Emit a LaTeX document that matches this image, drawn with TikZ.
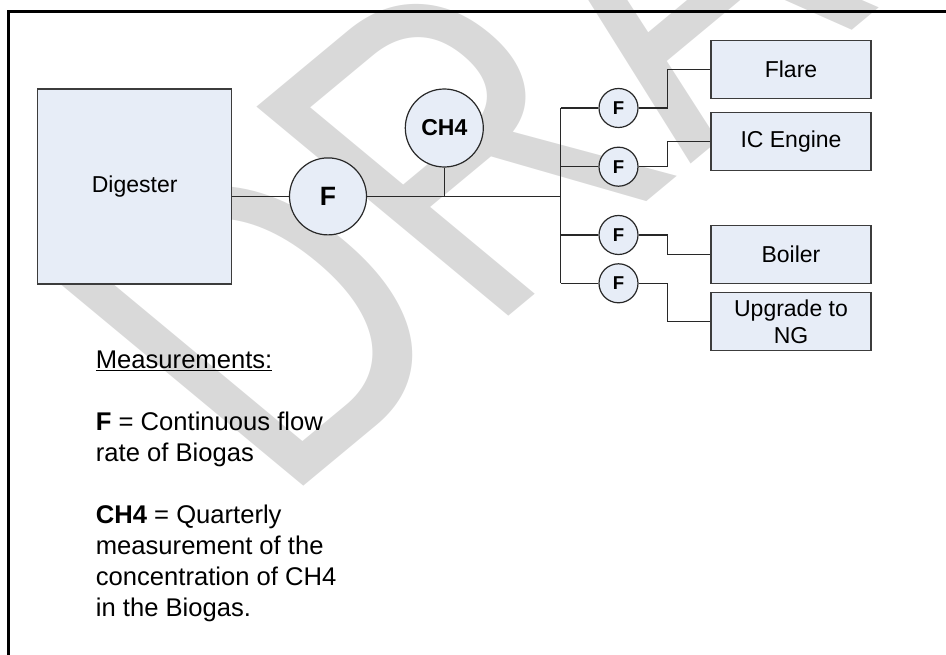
\documentclass[tikz,border=0pt]{standalone}
\usepackage{fontspec}
\setmainfont{Liberation Sans}
\usepackage{graphicx}
\definecolor{boxfill}{RGB}{231,237,247}
\definecolor{linec}{RGB}{40,40,40}
\definecolor{boxline}{RGB}{60,60,60}
\definecolor{wmgray}{RGB}{217,217,217}
\tikzset{
  unitbox/.style={draw=boxline, line width=1.4pt, fill=boxfill, rectangle, minimum width=160pt, minimum height=58pt, inner sep=0pt, align=center, font=\fontsize{23}{27.4}\selectfont},
  bigmeter/.style={draw=linec, line width=1.2pt, fill=boxfill, circle, minimum size=77pt, inner sep=0pt, font=\bfseries\fontsize{26.5}{30}\selectfont},
  chmeter/.style={draw=linec, line width=1.2pt, fill=boxfill, circle, minimum size=78pt, inner sep=0pt, font=\bfseries\fontsize{23}{27}\selectfont},
  smallmeter/.style={draw=linec, line width=1.2pt, fill=boxfill, circle, minimum size=39pt, inner sep=0pt, font=\bfseries\fontsize{18.6}{22}\selectfont},
  pipe/.style={draw=linec, line width=1.2pt},
  legendtxt/.style={anchor=base west, inner sep=0pt, font=\fontsize{25.6}{31}\selectfont},
  wmtxt/.style={anchor=base west, inner sep=0pt, text=wmgray, rotate=45, transform shape, font=\fontsize{401.4}{402}\selectfont}
}
\begin{document}
\begin{tikzpicture}[x=1pt,y=1pt]
\useasboundingbox (0,0) rectangle (946,-655);
\begin{scope}
\clip (0,0) rectangle (946,-655);
\begin{scope}[yscale=0.83]
\node[wmtxt] (wm) at (280.1,-608.7) {\scalebox{1}[1.29]{DRAFT}};
\end{scope}
\end{scope}
% frame
\coordinate (frbl) at (8.5,-660);
\coordinate (frtl) at (8.5,-11.5);
\coordinate (frtr) at (950,-11.5);
\draw[line width=2.5pt, black] (frbl) -- (frtl) -- (frtr);
% main units
\node[draw=boxline, line width=1.4pt, fill=boxfill, minimum width=194pt, minimum height=195pt, inner sep=0pt, font=\fontsize{23}{27}\selectfont] (dig) at (134.7,-186.5) {Digester};
\node[bigmeter] (f0) at (328,-196.4) {F};
\node[chmeter] (ch4) at (444.3,-128) {CH4};
\coordinate (busx) at (560.7,0);
\coordinate (kneex) at (667.3,0);
\node[smallmeter] (f1) at (618.5,-108) {F};
\node[smallmeter] (f2) at (618.5,-166.7) {F};
\node[smallmeter] (f3) at (618.5,-235) {F};
\node[smallmeter] (f4) at (618.5,-283.3) {F};
\node[unitbox] (flare) at (791,-69.7) {Flare};
\node[unitbox] (ic) at (791,-141.5) {IC Engine};
\node[unitbox] (boiler) at (791,-254.5) {Boiler};
\node[unitbox] (upg) at (791,-321.7) {Upgrade to\\NG};
% pipes
\draw[pipe] (dig.east |- f0.west) -- (f0.west);
\draw[pipe] (f0.east) -- (f0.east -| busx);
\draw[pipe] (ch4.south) -- (ch4.south |- f0.east);
\draw[pipe] (f1.west -| busx) -- (f4.west -| busx);
\draw[pipe] (f1.west -| busx) -- (f1.west);
\draw[pipe] (f2.west -| busx) -- (f2.west);
\draw[pipe] (f3.west -| busx) -- (f3.west);
\draw[pipe] (f4.west -| busx) -- (f4.west);
\draw[pipe] (f1.east) -- (f1.east -| kneex) |- (flare.west);
\draw[pipe] (f2.east) -- (f2.east -| kneex) |- (ic.west);
\draw[pipe] (f3.east) -- (f3.east -| kneex) |- (boiler.west);
\draw[pipe] (f4.east) -- (f4.east -| kneex) |- (upg.west);
% legend
\node[legendtxt] (l0) at (95.7,-368.3) {\underline{Measurements:}};
\node[legendtxt] (l1) at (95.7,-430.5) {\textbf{F} = Continuous flow};
\node[legendtxt] (l2) at (95.7,-461.5) {rate of Biogas};
\node[legendtxt] (l3) at (95.7,-523.8) {\textbf{CH4} = Quarterly};
\node[legendtxt] (l4) at (95.7,-554.8) {measurement of the};
\node[legendtxt] (l5) at (95.7,-585.8) {concentration of CH4};
\node[legendtxt] (l6) at (95.7,-616.7) {in the Biogas.};
\end{tikzpicture}
\end{document}
